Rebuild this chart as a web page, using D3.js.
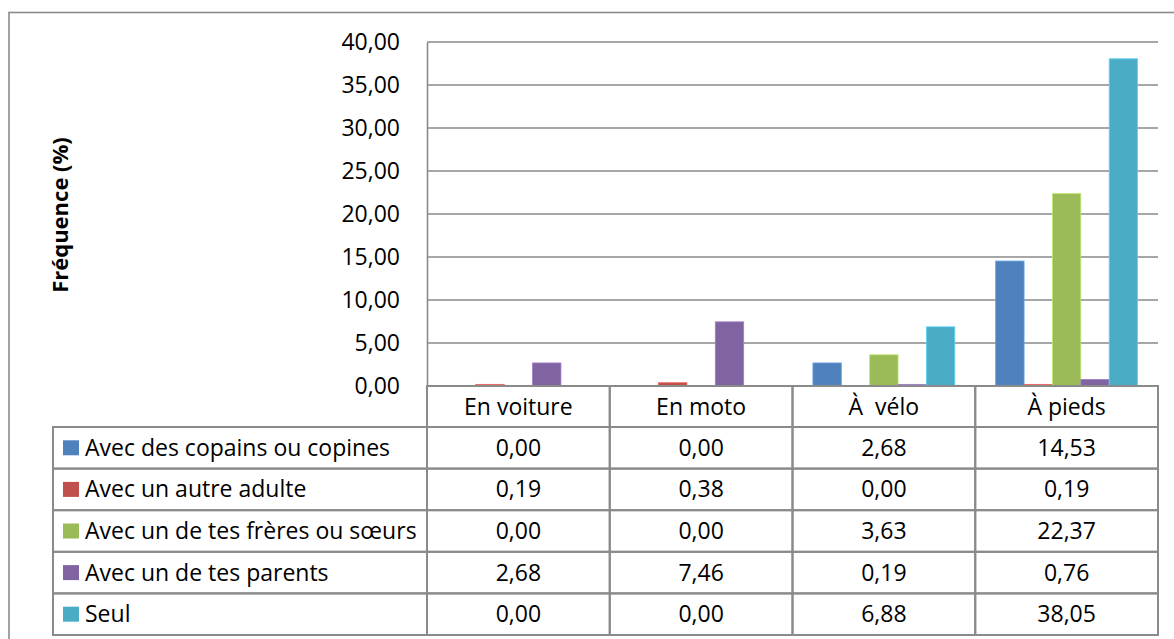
<!DOCTYPE html>
<html>
<head>
<meta charset="utf-8">
<script src="https://cdn.jsdelivr.net/npm/d3@7"></script>
<style>
  body { margin: 0; background: #fff; }
  svg { display: block; font-family: "Open Sans", Lato, "Liberation Sans", sans-serif; }
  .grid line { stroke: #8a8a8a; stroke-width: 1.6; }
  .cell { fill: none; stroke: #8a8a8a; stroke-width: 2; }
</style>
</head>
<body>
<svg width="1174" height="639"></svg>
<script>
// data
let categories = ["En voiture", "En moto", "À  vélo", "À pieds"];
let seriesNames = [
  "Avec des copains ou copines",
  "Avec un autre adulte",
  "Avec un de tes frères ou sœurs",
  "Avec un de tes parents",
  "Seul"
];
let copains = [0.00, 0.00, 2.68, 14.53];
let autreAdulte = [0.19, 0.38, 0.00, 0.19];
let freres = [0.00, 0.00, 3.63, 22.37];
let parents = [2.68, 7.46, 0.19, 0.76];
let seul = [0.00, 0.00, 6.88, 38.05];
let yTicks = [0, 5, 10, 15, 20, 25, 30, 35, 40];
let colors = ["#4f81bd", "#c0504d", "#9bbb59", "#8064a2", "#4bacc6"];

let values = [copains, autreAdulte, freres, parents, seul];

let svg = d3.select("svg");

// outer chart frame (right and bottom edges fall off the picture)
svg.append("rect")
  .attr("x", 9).attr("y", 12.5)
  .attr("width", 1200).attr("height", 700)
  .attr("fill", "none").attr("stroke", "#8a8a8a").attr("stroke-width", 1.6);

let margin = { top: 42, left: 427, right: 1158, zero: 386 };
let tableLeft = 53;
let headerH = 41;
let rowH = 41.6;
let fontSize = 23;

let yScale = d3.scaleLinear()
  .domain([0, 40])
  .range([margin.zero, margin.top]);

let xScale = d3.scaleBand()
  .domain(categories)
  .range([margin.left, margin.right]);

// bars take 5 slots, leaving a gap of ~0.29 band on the sides
let inner = d3.scaleBand()
  .domain(d3.range(seriesNames.length))
  .range([0, xScale.bandwidth()])
  .paddingOuter(0.72);

// gridlines
let grid = svg.append("g").attr("class", "grid");
grid.selectAll("line")
  .data(yTicks)
  .join("line")
  .attr("x1", margin.left).attr("x2", margin.right)
  .attr("y1", d => yScale(d)).attr("y2", d => yScale(d));

// y axis labels
let fmt = d => d3.format(".2f")(d).replace(".", ",");
let yAxis = d3.axisLeft(yScale).tickValues(yTicks).tickFormat(fmt).tickSize(0).tickPadding(27);
let yGroup = svg.append("g")
  .attr("transform", "translate(" + margin.left + ",0)")
  .call(yAxis);
yGroup.select(".domain").attr("stroke", "#8a8a8a").attr("stroke-width", 1.6);
yGroup.selectAll("text")
  .attr("font-size", 23)
  .attr("font-family", "'Open Sans', Lato, sans-serif")
  .attr("fill", "#000");

// y title
svg.append("text")
  .attr("transform", "translate(68,215)rotate(-90)")
  .attr("text-anchor", "middle")
  .attr("font-size", 22)
  .attr("font-weight", "bold")
  .text("Fréquence (%)");

// bars
let bars = svg.append("g");
values.forEach(function(vals, s) {
  bars.selectAll(null)
    .data(vals.map((v, i) => [categories[i], v]))
    .join("rect")
    .attr("x", d => xScale(d[0]) + inner(s))
    .attr("width", inner.bandwidth())
    .attr("y", d => yScale(d[1]))
    .attr("height", d => margin.zero - yScale(d[1]))
    .attr("fill", colors[s])
    .attr("stroke", d3.color(colors[s]).brighter(0.6))
    .attr("stroke-width", d => d[1] > 0 ? 0.8 : 0);
});

// data table
let table = svg.append("g");

// header row with category names
categories.forEach(function(c) {
  table.append("rect").attr("class", "cell")
    .attr("x", xScale(c)).attr("y", margin.zero)
    .attr("width", xScale.bandwidth()).attr("height", headerH);
  table.append("text")
    .attr("x", xScale(c) + xScale.bandwidth() / 2)
    .attr("y", margin.zero + headerH / 2)
    .attr("dy", "0.35em")
    .attr("text-anchor", "middle")
    .attr("font-size", fontSize)
    .style("white-space", "pre")
    .text(c);
});

// one row per series
seriesNames.forEach(function(name, s) {
  let y0 = margin.zero + headerH + s * rowH;
  table.append("rect").attr("class", "cell")
    .attr("x", tableLeft).attr("y", y0)
    .attr("width", margin.left - tableLeft).attr("height", rowH);
  table.append("rect")
    .attr("x", 63).attr("y", y0 + rowH / 2 - 7.5)
    .attr("width", 16).attr("height", 15)
    .attr("fill", colors[s]);
  table.append("text")
    .attr("x", 85).attr("y", y0 + rowH / 2)
    .attr("dy", "0.35em")
    .attr("font-size", fontSize)
    .text(name);

  values[s].forEach(function(v, i) {
    let c = categories[i];
    table.append("rect").attr("class", "cell")
      .attr("x", xScale(c)).attr("y", y0)
      .attr("width", xScale.bandwidth()).attr("height", rowH);
    table.append("text")
      .attr("x", xScale(c) + xScale.bandwidth() / 2)
      .attr("y", y0 + rowH / 2)
      .attr("dy", "0.35em")
      .attr("text-anchor", "middle")
      .attr("font-size", fontSize)
      .text(fmt(v));
  });
});
</script>
</body>
</html>
